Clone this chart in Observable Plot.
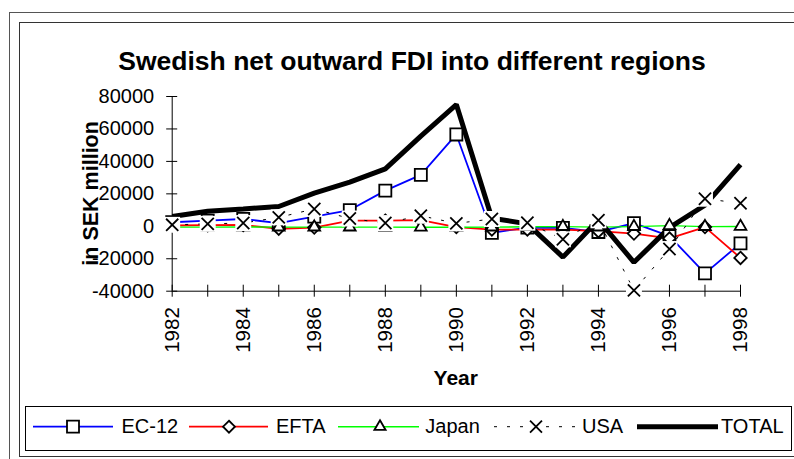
<!DOCTYPE html>
<html><head><meta charset="utf-8">
<script src="https://cdn.jsdelivr.net/npm/d3@7"></script>
<script src="https://cdn.jsdelivr.net/npm/@observablehq/plot@0.6"></script>
<style>html,body{margin:0;padding:0;background:#fff;overflow:hidden} svg{display:block}</style>
</head><body><div id="chart"></div>
<script>
const years = [1982,1983,1984,1985,1986,1987,1988,1989,1990,1991,1992,1993,1994,1995,1996,1997,1998];
const ec12  = [2500,3500,4500,2000,6000,10000,22000,31700,56600,-4000,-800,-1000,-3500,2000,-6000,-29000,-10500];
const efta  = [500,700,800,-1500,-800,3500,3500,3800,-500,-2000,-2000,-2000,-3000,-4500,-7500,-500,-19500];
const japan = [-500,-500,-400,-500,-500,-500,-500,-600,-600,-500,-300,-200,-500,-200,400,-200,-100];
const usa   = [900,1500,2000,5500,10700,4800,2000,6500,1800,4500,2200,-8000,3700,-39500,-14000,17000,14200];
const total = [6000,9300,10700,12200,20400,27200,35400,55600,75000,5000,1500,-19000,4000,-22200,-800,13000,38000];
const yTicks = [-40000,-20000,0,20000,40000,60000,80000];
const xLabels = [1982,1984,1986,1988,1990,1992,1994,1996,1998];
const seriesNames = ["EC-12","EFTA","Japan","USA","TOTAL"];
const titleText = "Swedish net outward FDI into different regions";
const yTitle = "in SEK million";
const xTitle = "Year";

const FONT = "'Liberation Sans', Arial, Helvetica, sans-serif";
const rows = vals => years.map((y,i)=>({year:y, value:vals[i]}));
const dEC = rows(ec12), dEF = rows(efta), dJP = rows(japan), dUS = rows(usa), dTO = rows(total);

const svg = Plot.plot({
  width: 794, height: 459,
  marginLeft: 171.7, marginRight: 54, marginTop: 96, marginBottom: 168.3,
  x: {domain: [1982, 1998], axis: null},
  y: {domain: [-40000, 80000], axis: null},
  style: {fontFamily: FONT, background: "white", overflow: "visible", color: "black"},
  marks: [
    Plot.ruleY([-40000], {stroke: "#000", strokeWidth: 1}),
    Plot.ruleX([1982], {stroke: "#000", strokeWidth: 1}),
    Plot.ruleX(years, {x: d => d, y1: () => -40000, y2: () => -40000, insetTop: -6, insetBottom: -6, stroke: "#000"}),
    Plot.ruleY(yTicks, {y: d => d, x1: () => 1982, x2: () => 1982, insetLeft: -5.5, insetRight: -5.5, stroke: "#000"}),
    Plot.text(yTicks, {x: () => 1982, y: d => d, text: d => String(d), textAnchor: "end", dx: -18, fontSize: 20, fill: "#000"}),
    Plot.text(xLabels, {x: d => d, y: () => -40000, text: d => String(d), rotate: -90, textAnchor: "end", dy: 16, fontSize: 20.5, fill: "#000"}),
    Plot.line(dEC, {x: "year", y: "value", stroke: "#0000ff", strokeWidth: 1.8}),
    Plot.line(dEF, {x: "year", y: "value", stroke: "#ff0000", strokeWidth: 1.8}),
    Plot.line(dJP, {x: "year", y: "value", stroke: "#00ff00", strokeWidth: 1.4}),
    Plot.line(dUS, {x: "year", y: "value", stroke: "#000", strokeWidth: 1, strokeDasharray: "3,10", strokeLinecap: "butt"}),
    Plot.line(dTO, {x: "year", y: "value", stroke: "#000", strokeWidth: 5, strokeLinejoin: "miter", strokeLinecap: "butt"}),
    Plot.dot(dEC, {x: "year", y: "value", symbol: "square", r: 6.8, fill: "white", stroke: "#000", strokeWidth: 1.8}),
    Plot.dot(dEF, {x: "year", y: "value", symbol: "diamond2", r: 5.6, fill: "white", stroke: "#000", strokeWidth: 1.8}),
    Plot.dot(dJP, {x: "year", y: "value", symbol: "triangle2", r: 5.6, fill: "white", stroke: "#000", strokeWidth: 1.8}),
    Plot.dot(dUS, {x: "year", y: "value", symbol: "square", r: 9, fill: "white", stroke: "none"}),
    Plot.dot(dUS, {x: "year", y: "value", symbol: "times", r: 5.6, fill: "none", stroke: "#000", strokeWidth: 1.8})
  ]
});
document.getElementById("chart").append(svg);
const s = d3.select(svg);

// frames (behind everything), extending past the right/bottom edges of the view
s.insert("rect", () => svg.querySelector("g")).attr("x", 19.5).attr("y", 22.5).attr("width", 1200).attr("height", 434)
  .attr("fill", "none").attr("stroke", "#333").attr("stroke-width", 1);
s.insert("rect", () => svg.querySelector("rect")).attr("x", 9.5).attr("y", 12.5).attr("width", 1200).attr("height", 600)
  .attr("fill", "none").attr("stroke", "#555").attr("stroke-width", 1);

// title
s.append("text").attr("x", 412).attr("y", 70).attr("text-anchor", "middle")
  .attr("font-family", FONT).attr("font-weight", "bold").attr("font-size", 26.5).attr("fill", "#000").text(titleText);
// y title
s.append("text").attr("transform", "translate(98,193.4) rotate(-90)").attr("text-anchor", "middle")
  .attr("font-family", FONT).attr("font-weight", "bold").attr("font-size", 21.5).attr("fill", "#000").text(yTitle);
// x title
s.append("text").attr("x", 455.8).attr("y", 385).attr("text-anchor", "middle")
  .attr("font-family", FONT).attr("font-weight", "bold").attr("font-size", 21).attr("fill", "#000").text(xTitle);

// legend
const L = s.append("g");
L.append("rect").attr("x", 25.5).attr("y", 406.5).attr("width", 766).attr("height", 44)
  .attr("fill", "white").attr("stroke", "#000").attr("stroke-width", 1);
const ly = 426.7, lty = 433;
const items = [
  {name: seriesNames[0], x1: 33, x2: 113, tx: 121.5, mx: 73, stroke: "#0000ff", w: 1.8, dash: null, sym: d3.symbolSquare, size: 12*12},
  {name: seriesNames[1], x1: 189, x2: 268, tx: 276, mx: 229, stroke: "#ff0000", w: 1.8, dash: null, sym: d3.symbolDiamond2, size: 90},
  {name: seriesNames[2], x1: 338, x2: 419, tx: 425.3, mx: 380, stroke: "#00ff00", w: 1.4, dash: null, sym: d3.symbolTriangle2, size: 90},
  {name: seriesNames[3], x1: 494, x2: 577, tx: 582, mx: 536, stroke: "#000", w: 1, dash: "3,10", sym: d3.symbolTimes, size: 95},
  {name: seriesNames[4], x1: 637, x2: 718, tx: 721, mx: null, stroke: "#000", w: 5, dash: null, sym: null}
];
for (const it of items) {
  const ln = L.append("line").attr("x1", it.x1).attr("x2", it.x2).attr("y1", ly).attr("y2", ly)
    .attr("stroke", it.stroke).attr("stroke-width", it.w);
  if (it.dash) ln.attr("stroke-dasharray", it.dash);
  if (it.sym) {
    if (it.sym === d3.symbolTimes) {
      L.append("rect").attr("x", it.mx - 8).attr("y", ly - 8).attr("width", 16).attr("height", 16).attr("fill", "white");
    }
    L.append("path").attr("d", d3.symbol(it.sym, it.size)()).attr("transform", `translate(${it.mx},${ly})`)
      .attr("fill", it.sym === d3.symbolTimes ? "none" : "white").attr("stroke", "#000").attr("stroke-width", 1.8);
  }
  L.append("text").attr("x", it.tx).attr("y", lty).attr("text-anchor", "start").attr("font-family", FONT).attr("font-size", 20)
    .attr("fill", "#000").text(it.name);
}
</script>
</body></html>
